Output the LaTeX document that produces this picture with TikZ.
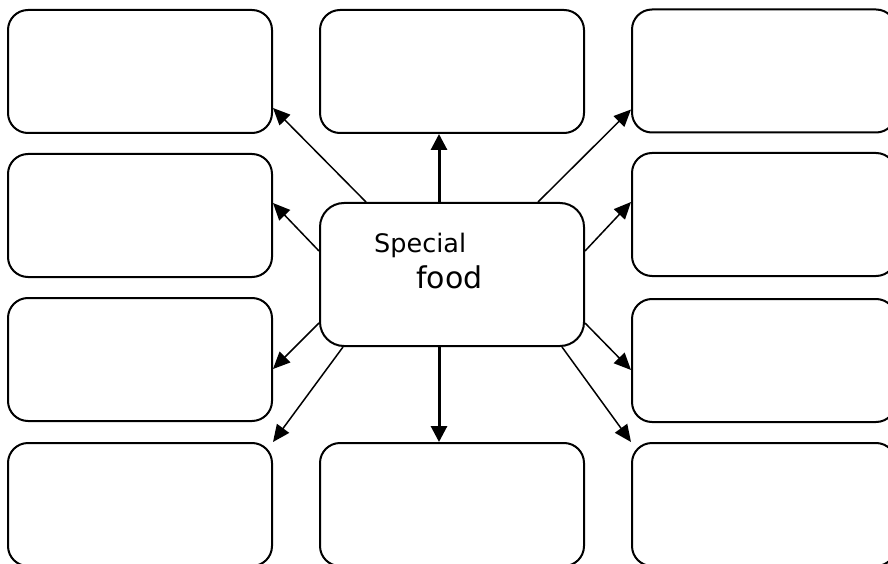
\documentclass[tikz,border=0pt]{standalone}
\usepackage{fontspec}
\setmainfont{DejaVu Sans}
\usetikzlibrary{arrows.meta,positioning}

\begin{document}
\begin{tikzpicture}[
    x=1pt, y=1pt,
    card/.style={draw, rounded corners=20pt, fill=white, minimum width=264pt, minimum height=123pt, line width=2pt, inner sep=0pt},
    hub/.style={draw, rounded corners=24pt, fill=white, minimum width=264pt, minimum height=143pt, line width=2pt, inner sep=0pt},
    word/.style={anchor=base west, inner sep=0pt},
    arrow/.style={-{Triangle[length=17pt,width=15pt]}, line width=1.5pt},
    thickarrow/.style={-{Triangle[length=16pt,width=16pt]}, line width=3pt}
]
\useasboundingbox (0,0) rectangle (888,563);

% ---- Outer cards ----
\node[card] (tl) at (140,491.5) {};
\node[card] (tm) at (452,491.5) {};
\node[card] (tr) at (764,492) {};
\node[card] (l2) at (140,347.5) {};
\node[card] (r2) at (764,348.5) {};
\node[card] (l3) at (140,203.5) {};
\node[card] (r3) at (764,202.5) {};
\node[card] (bl) at (140,58.5) {};
\node[card] (bm) at (452,58.5) {};
\node[card] (br) at (764,58.5) {};

% ---- Central hub ----
\node[hub] (hub) at (452,288.5) {};
\node[word, font=\fontsize{25.5}{28}\selectfont] (special) at (374,310) {Special};
\node[word, font=\fontsize{30}{34}\selectfont] (food) at (416,275) {food};

% ---- Connections ----
\draw[arrow] ([xshift=47pt]hub.north west) -- ([yshift=26pt]tl.south east);
\draw[thickarrow] ([xshift=-13pt]hub.north) -- ([xshift=-13pt]tm.south);
\draw[arrow] ([xshift=-47pt]hub.north east) -- ([yshift=24pt]tr.south west);
\draw[arrow] ([yshift=23.5pt]hub.west) -- ([yshift=12.5pt]l2.east);
\draw[arrow] ([yshift=23.5pt]hub.east) -- ([yshift=12.5pt]r2.west);
\draw[arrow] ([yshift=-48.5pt]hub.west) -- ([yshift=-9.5pt]l3.east);
\draw[arrow] ([yshift=-48.5pt]hub.east) -- ([yshift=-9.5pt]r3.west);
\draw[arrow] ([xshift=24pt]hub.south west) -- (bl.north east);
\draw[thickarrow] ([xshift=-13pt]hub.south) -- ([xshift=-13pt]bm.north);
\draw[arrow] ([xshift=-23pt]hub.south east) -- (br.north west);

\end{tikzpicture}
\end{document}
